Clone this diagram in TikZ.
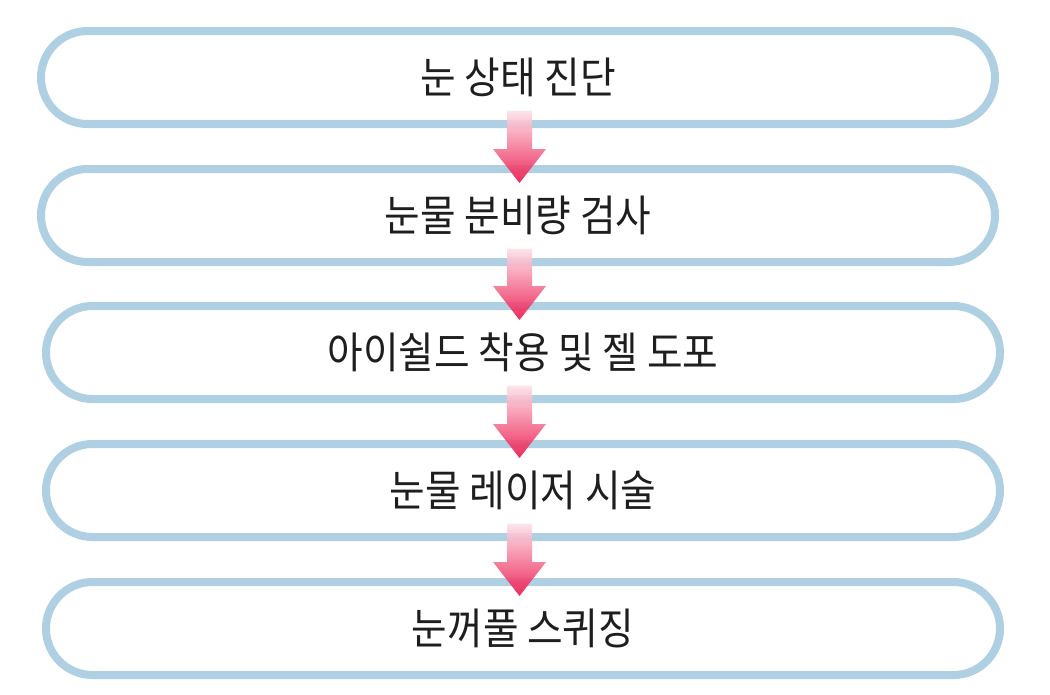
\documentclass[tikz,border=0pt]{standalone}
\usepackage{fontspec}
\setmainfont{Noto Sans CJK KR}[FakeStretch=0.9]
\usetikzlibrary{calc}
\definecolor{stageblue}{RGB}{175,207,226}
\definecolor{arrowpink}{RGB}{236,24,78}
\definecolor{textgray}{RGB}{30,30,30}

\begin{document}
\begin{tikzpicture}[x=1pt, y=-1pt,
  stage/.style={draw=stageblue, line width=8pt, rounded corners=46.5pt,
    minimum width=954pt, minimum height=93pt, inner sep=0pt,
    text=textgray, font=\fontsize{43}{47}\selectfont},
  flowarrow/.style={top color=arrowpink!12, middle color=arrowpink!62,
    bottom color=arrowpink, opacity=0.92}]
  \useasboundingbox (0,0) rectangle (1050,694);
  \node[stage] (diag) at (518,77.5) {눈 상태 진단};
  \node[stage] (tear) at (518,215.5) {눈물 분비량 검사};
  \node[stage] (shield) at (523,352.5) {아이쉴드 착용 및 젤 도포};
  \node[stage] (laser) at (523,490.5) {눈물 레이저 시술};
  \node[stage] (squeeze) at (523,628.5) {눈꺼풀 스퀴징};
  \coordinate (mid) at (519.5,0);
  \foreach \A/\B in {diag/tear, tear/shield, shield/laser, laser/squeeze}
    \shade[flowarrow] ($(mid|-\A.center)+(-12.5,33)$) -- ($(mid|-\A.center)+(12.5,33)$)
      -- ($(mid|-\B.center)+(12.5,-66.5)$) -- ($(mid|-\B.center)+(26.5,-66.5)$)
      -- ($(mid|-\B.center)+(0,-32.5)$) -- ($(mid|-\B.center)+(-26.5,-66.5)$)
      -- ($(mid|-\B.center)+(-12.5,-66.5)$) -- cycle;
\end{tikzpicture}
\end{document}
